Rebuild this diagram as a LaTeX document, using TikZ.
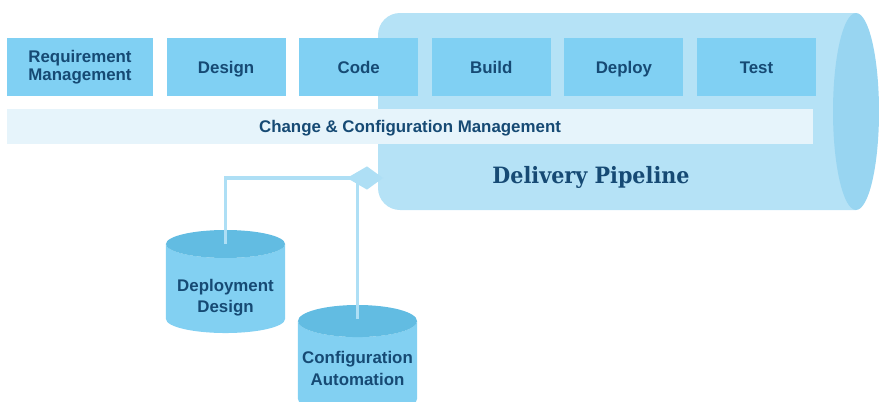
\documentclass[tikz,border=0pt]{standalone}
\usepackage{fontspec}
\setmainfont{Liberation Sans}
\newfontfamily\slabfont[FakeStretch=0.92]{DejaVu Serif}
\usetikzlibrary{positioning,shapes.geometric,arrows.meta,calc}

\definecolor{navy}{HTML}{164A74}
\definecolor{boxblue}{HTML}{80D0F3}
\definecolor{bandblue}{HTML}{E6F4FB}
\definecolor{pipebody}{HTML}{B5E2F6}
\definecolor{pipeend}{HTML}{98D5F1}
\definecolor{cyltop}{HTML}{62BCE2}
\definecolor{cylbody}{HTML}{82D0F2}
\definecolor{linkblue}{HTML}{AEDFF5}

\tikzset{
  stagebox/.style={fill=boxblue, text=navy, align=center, inner sep=0pt,
    font=\bfseries\fontsize{12}{13}\selectfont,
    minimum width=2.975cm, minimum height=1.45cm},
  stage/.style={stagebox, text height=9pt, text depth=0pt},
  band/.style={fill=bandblue, text=navy, inner sep=0pt,
    font=\bfseries\fontsize{12}{13}\selectfont,
    text height=9pt, text depth=0pt,
    minimum width=20.15cm, minimum height=0.875cm},
  store/.style={cylinder, shape border rotate=90, aspect=0.29,
    cylinder uses custom fill, cylinder body fill=cylbody,
    cylinder end fill=cyltop, text=navy, align=center, inner sep=0pt,
    font=\bfseries\fontsize{12}{15.5}\selectfont,
    minimum width=2.975cm, minimum height=2.575cm, anchor=shape center},
  link/.style={draw=linkblue, line width=2.2pt},
}

\begin{document}
\begin{tikzpicture}[x=0.025cm, y=-0.025cm]
  % frame
  \clip (0,0) rectangle (879,401);
  % delivery pipeline
  \begin{scope}
    \clip (0,0) rectangle (856,401);
    \fill[pipebody, rounded corners=0.55cm] (378,13) rectangle (900,210);
  \end{scope}
  \fill[pipeend] (856,111.5) ellipse [x radius=23, y radius=98.5];
  \node[text=navy, anchor=base, font=\slabfont\bfseries\fontsize{16}{18}\selectfont]
    (title) at (591,183) {Delivery Pipeline};
  % stages
  \node[stagebox, minimum width=3.65cm] (req) at (80,67) {Requirement\\Management};
  \node[stage, right=0.325cm of req] (design) {Design};
  \node[stage, right=0.325cm of design] (code) {Code};
  \node[stage, right=0.325cm of code] (build) {Build};
  \node[stage, right=0.325cm of build] (deploy) {Deploy};
  \node[stage, right=0.325cm of deploy] (test) {Test};
  % change management band
  \node[band] (ccm) at (410,126.5) {Change \& Configuration Management};
  % stores
  \node[store] (dd) at (225.5,281.5) {\rule{0pt}{21.5pt}Deployment\\Design};
  \node[store, minimum height=2.75cm] (ca) at (357.5,360) {Configuration\\Automation};
  % links
  \coordinate (pipe-in) at (383,178);
  \coordinate (dd-top) at ($(dd.north)+(0,14)$);
  \coordinate (ca-top) at ($(ca.north)+(0,14)$);
  \draw[link, -{Kite[length=0.9cm, width=0.58cm, inset=0.5cm]}] (dd-top) |- (pipe-in);
  \draw[link] (ca-top) -- (ca-top |- pipe-in);
\end{tikzpicture}
\end{document}
